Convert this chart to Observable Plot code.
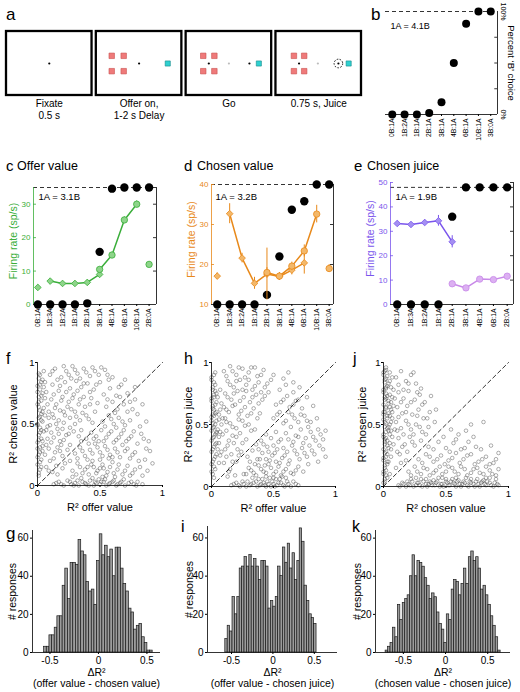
<!DOCTYPE html>
<html><head><meta charset="utf-8">
<script src="https://cdn.jsdelivr.net/npm/d3@7"></script>
<script src="https://cdn.jsdelivr.net/npm/@observablehq/plot@0.6"></script>
<style>
body{margin:0;background:#fff;}
#fig{position:relative;width:520px;height:692px;overflow:hidden;font-family:"Liberation Sans",Arial,sans-serif;}
.t{position:absolute;white-space:nowrap;color:#000;line-height:1;}
</style></head><body><div id="fig"></div>
<script>
// ---------------- DATA ----------------
// panel a (schematic)
const screenStart = [0, 1.05, 2.1, 3.15];
const captions = ["Fixate\n0.5 s", "Offer on,\n1-2 s Delay", "Go", "0.75 s, Juice"];
const redCols = [null, [0.18, 0.32], [0.2, 0.33], [0.21, 0.33]];
const redRows = [0.38, 0.62];
const cyanX = [null, 0.835, 0.85, 0.85];
const blackDots = [[0, 0.5], [1, 0.5], [2, 0.265], [2, 0.74], [3, 0.27], [3, 0.73]];
const grayDots = [[2, 0.5], [3, 0.49]];
const ringDots = [[3, 0.73]];

// panel b
const bCats = ["0B:1A","1B:2A","1B:1A","2B:1A","3B:1A","4B:1A","6B:1A","10B:1A","3B:0A"];
const bChoice = [0, 0, 0, 1.5, 12, 50, 88, 100, 100];

// panel c
const cCats = ["0B:1A","1B:3A","1B:2A","1B:1A","2B:1A","3B:1A","4B:1A","6B:1A","10B:1A","2B:0A"];
const cChoice = [0, 0, 0, 0, 1, 45, 99, 100, 100, 100];
const cDia = [5.1, 7.0, 6.3, 6.3, 6.6, 9.0, null, null, null, null];
const cDiaErr = [0.5, 0.6, 0.5, 0.5, 0.6, 0.7, 0, 0, 0, 0];
const cDiaLink = [0, 1, 1, 1, 1, 1, 0, 0, 0, 0];
const cCir = [null, null, null, null, null, 10.5, 14.8, 25.3, 30.0, 12.0];
const cCirErr = [0, 0, 0, 0, 0, 0.7, 0.8, 0.9, 1.0, 0.7];
const cCirLink = [0, 0, 0, 0, 0, 1, 1, 1, 1, 0];

// panel d
const dCats = ["0B:1A","1B:3A","1B:2A","1B:1A","2B:1A","3B:1A","4B:1A","6B:1A","10B:1A","3B:0A"];
const dChoice = [0, 0, 0, 0, 8, 40, 79, 86, 100, 100];
const dDia = [17.1, 32.7, 21.6, 15.3, 17.6, 17.0, 18.6, 20.4, null, null];
const dDiaErr = [0.8, 2.5, 1.2, 1.5, 6.5, 1.0, 1.2, 2.8, 0, 0];
const dDiaLink = [0, 1, 1, 1, 1, 1, 1, 1, 0, 0];
const dCir = [null, null, null, null, 18.0, 17.1, 19.6, 23.4, 32.6, 19.0];
const dCirErr = [0, 0, 0, 0, 1.2, 0.8, 1.0, 1.5, 2.2, 1.0];
const dCirLink = [0, 0, 0, 0, 1, 1, 1, 1, 1, 0];

// panel e
const eCats = ["0B:1A","1B:3A","1B:2A","1B:1A","2B:1A","3B:1A","4B:1A","6B:1A","2B:0A"];
const eChoice = [0, 0, 0, 0, 75, 100, 100, 100, 100];
const eDia = [33.2, 32.8, 33.6, 34.3, 25.7, null, null, null, null];
const eDiaErr = [1.0, 0.8, 1.0, 2.2, 2.5, 0, 0, 0, 0];
const eDiaLink = [1, 1, 1, 1, 1, 0, 0, 0, 0];
const eCir = [null, null, null, null, 8.5, 6.8, 10.4, 10.2, 11.6];
const eCirErr = [0, 0, 0, 0, 0.8, 0.6, 0.8, 0.8, 0.8];
const eCirLink = [0, 0, 0, 0, 1, 1, 1, 1, 1];

// panel f : R2 offer value (x) vs R2 chosen value (y)
const scatF1 = [
[0.01,0.08],[0.02,0.13],[0.00,0.17],[0.03,0.21],[0.01,0.25],[0.04,0.28],[0.02,0.31],[0.00,0.35],[0.03,0.38],[0.01,0.41],[0.05,0.44],[0.02,0.47],[0.00,0.5],[0.04,0.52],[0.01,0.55],[0.03,0.58],[0.02,0.61],[0.05,0.63],[0.00,0.66],[0.03,0.69],[0.01,0.72],[0.04,0.75],[0.02,0.78],[0.00,0.81],[0.03,0.84],[0.01,0.87],[0.02,0.9],[0.05,0.93],[0.06,0.57],[0.07,0.33],[0.06,0.71],[0.08,0.48],[0.07,0.15],[0.02,0.43],[0.01,0.64],[0.04,0.36],[0.02,0.19],[0.03,0.53],[0.05,0.8],[0.00,0.3],
[0.13,0.01],[0.17,0.03],[0.21,0.00],[0.24,0.04],[0.27,0.01],[0.3,0.02],[0.33,0.00],[0.36,0.03],[0.39,0.01],[0.42,0.04],[0.45,0.00],[0.47,0.02],[0.5,0.01],[0.53,0.03],[0.55,0.00],[0.58,0.02],[0.61,0.04],[0.64,0.01],[0.67,0.03],[0.7,0.00],[0.73,0.02],[0.77,0.01],[0.8,0.03],[0.84,0.01],[0.44,0.06],[0.52,0.07],[0.35,0.06],[0.62,0.07],[0.28,0.07],
[0.1,0.9],[0.14,0.95],[0.19,0.88],[0.23,0.93],[0.28,0.97],[0.32,0.91],[0.37,0.95],[0.42,0.89],[0.46,0.93],[0.51,0.96],[0.56,0.9],[0.12,0.82],[0.17,0.77],[0.22,0.84],[0.26,0.79],[0.31,0.85],[0.35,0.8],[0.4,0.83],[0.45,0.78],[0.11,0.7],[0.15,0.66],[0.2,0.72],[0.25,0.68],[0.29,0.74],[0.34,0.7],[0.38,0.64],[0.43,0.71],[0.48,0.67],[0.09,0.6],[0.13,0.55],[0.18,0.61],[0.22,0.57],[0.27,0.62],[0.31,0.56],[0.36,0.59],[0.41,0.54],[0.46,0.6],[0.1,0.49],[0.16,0.46],[0.21,0.51],[0.26,0.47],[0.3,0.5],[0.35,0.45],[0.13,0.39],[0.18,0.36],[0.23,0.41],[0.09,0.3],[0.14,0.27],[0.19,0.33],[0.1,0.2],[0.15,0.16],[0.2,0.24],[0.12,0.11],[0.24,0.29],[0.17,0.42],
[0.28,0.12],[0.32,0.18],[0.36,0.1],[0.4,0.15],[0.44,0.2],[0.48,0.12],[0.52,0.17],[0.56,0.11],[0.6,0.19],[0.64,0.13],[0.68,0.09],[0.72,0.16],[0.76,0.1],[0.3,0.26],[0.34,0.31],[0.38,0.24],[0.42,0.29],[0.46,0.34],[0.5,0.27],[0.54,0.32],[0.58,0.25],[0.62,0.3],[0.66,0.23],[0.7,0.28],[0.74,0.22],[0.78,0.27],[0.39,0.38],[0.43,0.43],[0.47,0.4],[0.51,0.45],[0.55,0.39],[0.59,0.44],[0.63,0.37],[0.67,0.42],[0.71,0.36],[0.75,0.4],[0.8,0.34],[0.5,0.21],[0.53,0.14],[0.57,0.22],[0.45,0.15],[0.49,0.36],[0.35,0.36],[0.26,0.2],[0.82,0.15],[0.86,0.21],[0.84,0.08],[0.88,0.12],[0.9,0.28],[0.85,0.38],[0.92,0.18],
[0.52,0.52],[0.57,0.57],[0.61,0.5],[0.65,0.55],[0.7,0.49],[0.74,0.53],[0.55,0.64],[0.6,0.68],[0.64,0.62],[0.69,0.66],[0.53,0.74],[0.58,0.79],[0.63,0.73],[0.67,0.82],[0.72,0.75],[0.78,0.7],[0.8,0.58],[0.76,0.62],[0.84,0.66],[0.82,0.48],[0.87,0.52],[0.5,0.84],[0.6,0.88],[0.7,0.86],[0.78,0.8]
];
const scatF2 = [
[0.01,0.1],[0.03,0.15],[0.00,0.23],[0.02,0.27],[0.04,0.32],[0.01,0.37],[0.03,0.45],[0.00,0.49],[0.02,0.56],[0.04,0.6],[0.01,0.68],[0.03,0.73],[0.00,0.76],[0.02,0.82],[0.04,0.86],[0.01,0.91],[0.06,0.25],[0.07,0.45],[0.08,0.66],[0.06,0.84],[0.09,0.12],[0.08,0.38],[0.07,0.76],[0.09,0.55],
[0.12,0.93],[0.16,0.86],[0.21,0.97],[0.25,0.9],[0.3,0.94],[0.34,0.87],[0.39,0.92],[0.44,0.96],[0.49,0.9],[0.54,0.94],[0.13,0.74],[0.18,0.81],[0.23,0.76],[0.27,0.87],[0.32,0.77],[0.37,0.83],[0.42,0.76],[0.47,0.82],[0.14,0.63],[0.19,0.69],[0.24,0.64],[0.28,0.71],[0.33,0.66],[0.37,0.72],[0.42,0.66],[0.12,0.58],[0.17,0.53],[0.21,0.6],[0.26,0.55],[0.3,0.6],[0.34,0.53],[0.39,0.57],[0.44,0.51],[0.11,0.43],[0.15,0.5],[0.2,0.46],[0.25,0.42],[0.29,0.44],[0.33,0.4],[0.11,0.35],[0.16,0.31],[0.21,0.37],[0.26,0.33],[0.13,0.22],[0.18,0.28],[0.22,0.18],[0.16,0.09],[0.2,0.14],
[0.15,0.02],[0.19,0.01],[0.26,0.03],[0.29,0.00],[0.32,0.04],[0.38,0.02],[0.41,0.00],[0.46,0.03],[0.49,0.05],[0.51,0.03],[0.54,0.05],[0.57,0.01],[0.6,0.03],[0.63,0.00],[0.66,0.02],[0.69,0.05],[0.75,0.03],[0.79,0.00],
[0.31,0.09],[0.34,0.15],[0.38,0.13],[0.41,0.09],[0.43,0.17],[0.47,0.1],[0.5,0.14],[0.55,0.08],[0.58,0.15],[0.61,0.1],[0.65,0.17],[0.7,0.12],[0.74,0.08],[0.78,0.13],[0.32,0.22],[0.36,0.28],[0.4,0.21],[0.44,0.26],[0.48,0.31],[0.52,0.24],[0.56,0.29],[0.6,0.23],[0.64,0.27],[0.68,0.33],[0.72,0.3],[0.76,0.25],[0.41,0.34],[0.45,0.38],[0.53,0.36],[0.57,0.42],[0.61,0.35],[0.65,0.39],[0.69,0.45],[0.73,0.38],[0.77,0.44],[0.81,0.2],[0.87,0.3],[0.83,0.42],[0.89,0.36],
[0.54,0.48],[0.59,0.54],[0.63,0.47],[0.68,0.52],[0.72,0.6],[0.56,0.7],[0.62,0.59],[0.66,0.72],[0.74,0.68],[0.57,0.86],[0.65,0.8]
];
// panel h : R2 offer value (x) vs R2 chosen juice (y)
const scatH1 = [
[0.00,0.12],[0.02,0.16],[0.01,0.2],[0.03,0.24],[0.00,0.28],[0.02,0.32],[0.04,0.35],[0.01,0.39],[0.03,0.42],[0.00,0.45],[0.02,0.48],[0.01,0.51],[0.04,0.53],[0.00,0.56],[0.03,0.59],[0.02,0.62],[0.01,0.65],[0.04,0.68],[0.00,0.71],[0.02,0.74],[0.03,0.77],[0.01,0.8],[0.02,0.84],[0.00,0.88],[0.03,0.92],[0.05,0.46],[0.06,0.54],[0.05,0.3],[0.07,0.62],[0.06,0.4],[0.05,0.72],[0.08,0.5],[0.07,0.25],[0.02,0.07],[0.01,0.58],[0.04,0.44],
[0.16,0.01],[0.2,0.03],[0.23,0.00],[0.26,0.02],[0.29,0.04],[0.31,0.01],[0.34,0.03],[0.37,0.00],[0.4,0.02],[0.43,0.01],[0.45,0.04],[0.48,0.00],[0.5,0.02],[0.53,0.01],[0.56,0.03],[0.59,0.00],[0.62,0.02],[0.66,0.04],[0.7,0.01],[0.41,0.06],[0.47,0.07],[0.52,0.06],[0.33,0.07],[0.57,0.08],
[0.1,0.93],[0.15,0.97],[0.2,0.9],[0.25,0.95],[0.3,0.92],[0.35,0.96],[0.4,0.9],[0.13,0.85],[0.18,0.8],[0.23,0.86],[0.28,0.82],[0.33,0.78],[0.38,0.84],[0.43,0.8],[0.48,0.86],[0.11,0.75],[0.16,0.7],[0.21,0.77],[0.26,0.72],[0.31,0.68],[0.36,0.74],[0.41,0.7],[0.46,0.76],[0.1,0.64],[0.14,0.6],[0.19,0.66],[0.24,0.61],[0.29,0.57],[0.34,0.63],[0.39,0.59],[0.12,0.52],[0.17,0.48],[0.22,0.54],[0.27,0.49],[0.32,0.45],[0.09,0.42],[0.14,0.37],[0.2,0.4],[0.25,0.35],[0.11,0.3],[0.16,0.26],[0.21,0.3],[0.1,0.19],[0.15,0.14],[0.2,0.2],[0.13,0.08],
[0.26,0.1],[0.3,0.15],[0.34,0.11],[0.38,0.17],[0.42,0.12],[0.46,0.18],[0.5,0.1],[0.54,0.16],[0.58,0.12],[0.62,0.18],[0.66,0.1],[0.7,0.16],[0.29,0.24],[0.33,0.29],[0.37,0.22],[0.41,0.27],[0.45,0.32],[0.49,0.25],[0.53,0.3],[0.57,0.23],[0.61,0.28],[0.65,0.33],[0.69,0.26],[0.73,0.31],[0.77,0.24],[0.81,0.29],[0.4,0.37],[0.44,0.42],[0.48,0.39],[0.52,0.44],[0.56,0.38],[0.6,0.43],[0.64,0.48],[0.68,0.41],[0.72,0.46],[0.76,0.39],[0.8,0.44],[0.84,0.37],[0.88,0.42],[0.9,0.3],[0.86,0.2],[0.74,0.12],[0.78,0.18],[0.92,0.24],[0.36,0.34],[0.44,0.22],[0.52,0.2],
[0.5,0.55],[0.55,0.6],[0.6,0.53],[0.65,0.58],[0.7,0.52],[0.75,0.57],[0.8,0.52],[0.85,0.55],[0.52,0.66],[0.58,0.7],[0.63,0.64],[0.68,0.69],[0.73,0.63],[0.55,0.78],[0.6,0.82],[0.66,0.76],[0.71,0.8],[0.77,0.72],[0.5,0.9],[0.62,0.92],[0.82,0.65]
];
const scatH2 = [
[0.01,0.1],[0.03,0.14],[0.00,0.18],[0.02,0.22],[0.04,0.26],[0.01,0.3],[0.03,0.34],[0.00,0.37],[0.02,0.4],[0.04,0.43],[0.01,0.47],[0.03,0.5],[0.00,0.53],[0.02,0.57],[0.04,0.6],[0.01,0.63],[0.03,0.66],[0.00,0.69],[0.02,0.72],[0.04,0.75],[0.01,0.78],[0.03,0.82],[0.00,0.86],[0.02,0.9],[0.06,0.35],[0.07,0.44],[0.06,0.58],[0.08,0.67],[0.07,0.78],[0.06,0.19],[0.09,0.55],[0.08,0.28],
[0.12,0.89],[0.17,0.93],[0.22,0.96],[0.27,0.88],[0.32,0.96],[0.37,0.89],[0.42,0.94],[0.15,0.82],[0.2,0.85],[0.25,0.78],[0.3,0.86],[0.35,0.81],[0.4,0.76],[0.45,0.83],[0.13,0.72],[0.18,0.75],[0.23,0.69],[0.28,0.77],[0.33,0.72],[0.38,0.67],[0.43,0.73],[0.12,0.62],[0.17,0.65],[0.22,0.58],[0.27,0.64],[0.32,0.59],[0.37,0.55],[0.11,0.55],[0.15,0.51],[0.2,0.47],[0.25,0.53],[0.3,0.5],[0.35,0.46],[0.12,0.45],[0.17,0.41],[0.23,0.43],[0.28,0.38],[0.13,0.33],[0.18,0.35],[0.24,0.28],[0.12,0.24],[0.17,0.2],[0.22,0.25],[0.14,0.12],[0.19,0.09],
[0.18,0.02],[0.22,0.01],[0.25,0.04],[0.28,0.00],[0.32,0.02],[0.36,0.04],[0.39,0.01],[0.42,0.03],[0.44,0.00],[0.46,0.02],[0.49,0.04],[0.51,0.00],[0.54,0.03],[0.58,0.01],[0.61,0.04],[0.64,0.00],[0.68,0.02],[0.38,0.06],[0.44,0.08],[0.5,0.07],[0.55,0.06],[0.6,0.07],
[0.28,0.1],[0.32,0.13],[0.36,0.09],[0.4,0.14],[0.44,0.11],[0.48,0.15],[0.52,0.12],[0.56,0.09],[0.6,0.14],[0.64,0.11],[0.68,0.13],[0.31,0.2],[0.35,0.18],[0.39,0.22],[0.43,0.17],[0.47,0.21],[0.51,0.27],[0.55,0.19],[0.59,0.25],[0.63,0.21],[0.67,0.29],[0.71,0.22],[0.75,0.27],[0.79,0.33],[0.83,0.26],[0.38,0.3],[0.42,0.34],[0.46,0.28],[0.5,0.33],[0.54,0.36],[0.58,0.31],[0.62,0.38],[0.66,0.36],[0.7,0.4],[0.74,0.35],[0.78,0.48],[0.82,0.4],[0.86,0.46],[0.9,0.38],[0.92,0.45],[0.87,0.33],
[0.53,0.58],[0.58,0.51],[0.62,0.6],[0.67,0.55],[0.72,0.58],[0.77,0.53],[0.56,0.68],[0.61,0.73],[0.66,0.66],[0.7,0.7],[0.58,0.87],[0.66,0.84]
];
// panel j : R2 chosen value (x) vs R2 chosen juice (y)
const scatJ1 = [
[0.00,0.03],[0.01,0.06],[0.02,0.09],[0.00,0.12],[0.01,0.15],[0.03,0.18],[0.00,0.21],[0.02,0.24],[0.01,0.27],[0.00,0.3],[0.03,0.33],[0.01,0.36],[0.02,0.39],[0.00,0.42],[0.04,0.45],[0.01,0.48],[0.02,0.51],[0.00,0.54],[0.03,0.57],[0.01,0.6],[0.02,0.63],[0.00,0.66],[0.04,0.69],[0.01,0.72],[0.02,0.75],[0.00,0.78],[0.03,0.81],[0.01,0.84],[0.02,0.87],[0.00,0.9],[0.01,0.93],[0.02,0.96],[0.05,0.5],[0.06,0.62],[0.05,0.74],[0.07,0.4],[0.06,0.3],[0.05,0.85],[0.07,0.55],[0.06,0.68],[0.04,0.2],[0.05,0.1],[0.08,0.78],[0.04,0.59],[0.03,0.47],[0.01,0.38],[0.02,0.71],[0.03,0.26],[0.00,0.58],[0.02,0.8],
[0.12,0.01],[0.15,0.03],[0.18,0.00],[0.2,0.02],[0.23,0.04],[0.26,0.01],[0.28,0.03],[0.31,0.00],[0.34,0.02],[0.37,0.04],[0.39,0.01],[0.42,0.03],[0.45,0.00],[0.47,0.02],[0.5,0.04],[0.53,0.01],[0.56,0.03],[0.58,0.00],[0.61,0.02],[0.64,0.04],[0.67,0.01],[0.7,0.03],[0.73,0.00],[0.76,0.02],[0.79,0.04],[0.82,0.01],[0.85,0.03],[0.88,0.00],[0.91,0.02],[0.3,0.06],[0.44,0.07],[0.55,0.06],[0.66,0.07],[0.75,0.06],[0.85,0.07],[0.4,0.05],[0.6,0.05],[0.22,0.06],[0.5,0.06],[0.8,0.05],
[0.1,0.88],[0.14,0.93],[0.18,0.85],[0.22,0.9],[0.26,0.83],[0.3,0.79],[0.12,0.76],[0.16,0.71],[0.2,0.77],[0.25,0.7],[0.29,0.74],[0.33,0.68],[0.11,0.64],[0.15,0.59],[0.19,0.65],[0.23,0.58],[0.28,0.62],[0.32,0.55],[0.37,0.6],[0.1,0.52],[0.14,0.47],[0.18,0.53],[0.22,0.46],[0.26,0.5],[0.31,0.44],[0.36,0.48],[0.41,0.52],[0.12,0.39],[0.17,0.34],[0.21,0.4],[0.25,0.33],[0.13,0.26],[0.18,0.21],[0.1,0.15],[0.42,0.62],[0.38,0.73],[0.24,0.92],
[0.2,0.12],[0.25,0.16],[0.3,0.1],[0.35,0.14],[0.4,0.11],[0.45,0.16],[0.5,0.12],[0.55,0.15],[0.6,0.1],[0.65,0.14],[0.7,0.11],[0.75,0.15],[0.8,0.1],[0.85,0.13],[0.9,0.09],[0.28,0.22],[0.34,0.26],[0.4,0.2],[0.46,0.25],[0.52,0.21],[0.58,0.27],[0.64,0.22],[0.7,0.26],[0.76,0.2],[0.82,0.24],[0.88,0.19],[0.36,0.32],[0.44,0.36],[0.5,0.31],[0.56,0.35],[0.62,0.3],[0.68,0.36],[0.74,0.32],[0.6,0.42],[0.66,0.45],[0.72,0.4],[0.8,0.52],[0.92,0.27],[0.48,0.4],[0.54,0.46]
];
const scatJ2 = [
[0.01,0.04],[0.03,0.07],[0.00,0.1],[0.02,0.13],[0.01,0.17],[0.03,0.2],[0.00,0.23],[0.02,0.28],[0.04,0.31],[0.01,0.34],[0.03,0.37],[0.00,0.4],[0.02,0.44],[0.04,0.48],[0.01,0.52],[0.03,0.55],[0.00,0.6],[0.02,0.64],[0.04,0.67],[0.01,0.7],[0.03,0.73],[0.00,0.76],[0.02,0.79],[0.04,0.83],[0.01,0.86],[0.03,0.89],[0.00,0.92],[0.02,0.94],[0.05,0.42],[0.06,0.52],[0.05,0.64],[0.07,0.72],[0.06,0.8],[0.05,0.35],[0.06,0.24],[0.07,0.6],[0.05,0.57],[0.06,0.45],[0.08,0.65],[0.07,0.88],[0.09,0.46],[0.08,0.34],[0.09,0.71],[0.05,0.92],
[0.13,0.00],[0.16,0.02],[0.19,0.04],[0.21,0.01],[0.24,0.00],[0.27,0.03],[0.29,0.01],[0.32,0.04],[0.35,0.00],[0.36,0.02],[0.38,0.03],[0.41,0.01],[0.43,0.04],[0.46,0.02],[0.48,0.00],[0.51,0.03],[0.52,0.01],[0.54,0.04],[0.57,0.02],[0.59,0.04],[0.62,0.00],[0.63,0.02],[0.65,0.03],[0.68,0.00],[0.69,0.04],[0.72,0.02],[0.74,0.04],[0.77,0.00],[0.78,0.03],[0.81,0.02],[0.83,0.04],[0.86,0.01],[0.89,0.03],[0.92,0.01],[0.26,0.07],[0.34,0.06],[0.47,0.07],[0.58,0.07],[0.7,0.06],[0.82,0.07],[0.9,0.06],
[0.12,0.82],[0.16,0.78],[0.2,0.83],[0.27,0.76],[0.14,0.68],[0.18,0.6],[0.22,0.68],[0.27,0.57],[0.31,0.66],[0.12,0.56],[0.16,0.42],[0.2,0.5],[0.24,0.42],[0.29,0.48],[0.34,0.42],[0.11,0.45],[0.15,0.32],[0.19,0.28],[0.23,0.36],[0.14,0.19],[0.11,0.28],[0.35,0.55],[0.3,0.37],
[0.22,0.09],[0.27,0.12],[0.32,0.15],[0.37,0.09],[0.42,0.13],[0.47,0.1],[0.52,0.16],[0.57,0.12],[0.62,0.16],[0.67,0.09],[0.72,0.14],[0.77,0.11],[0.82,0.16],[0.87,0.1],[0.92,0.14],[0.31,0.19],[0.37,0.24],[0.43,0.22],[0.49,0.18],[0.55,0.23],[0.61,0.19],[0.67,0.25],[0.73,0.18],[0.79,0.22],[0.85,0.18],[0.9,0.22],[0.4,0.3],[0.53,0.28],[0.65,0.31],[0.78,0.3],[0.7,0.5],[0.58,0.38],[0.86,0.33]
];

// histograms: counts per bin, first bin edge, bin width
const histG = [3,3,9,9,13,19,19,35,44,28,47,47,46,59,53,51,37,32,33,25,48,62,51,56,50,54,40,55,55,44,36,32,23,21,12,14,15,8,5,1,1];
const histGStart = -0.56, histGWidth = 0.0273;
const histI = [7,14,11,29,20,29,44,45,50,45,51,45,49,45,38,48,48,45,23,27,24,29,45,40,55,47,57,44,52,38,48,65,58,35,27,20,18,15];
const histIStart = -0.575, histIWidth = 0.029;
const histK = [1,3,5,13,8,25,17,26,28,30,40,51,40,48,47,45,39,35,28,31,29,21,15,12,5,20,17,33,38,37,30,36,44,36,50,53,48,50,44,33,35,30,25,19,14,8,1];
const histKStart = -0.71, histKWidth = 0.029;

// ---------------- DRAWING ----------------
const FONT = '"Liberation Sans", Arial, Helvetica, sans-serif';
const fig = document.getElementById("fig");
function put(node, left, top) {
  node.style.position = "absolute";
  node.style.left = left + "px";
  node.style.top = top + "px";
  fig.appendChild(node);
}
function txt(s, left, baseline, size, color) {
  const el = document.createElement("div");
  el.className = "t";
  el.textContent = s;
  el.style.fontSize = size + "px";
  el.style.left = left + "px";
  el.style.top = (baseline - 0.846 * size) + "px";
  if (color) el.style.color = color;
  fig.appendChild(el);
}
function mk(o) {
  return Plot.plot({...o, style: {fontFamily: FONT, background: "transparent", overflow: "visible", color: "#000"}});
}

// ----- panel a -----
{
  const sq = [];
  redCols.forEach((cols, s) => { if (cols) cols.forEach(fx => redRows.forEach(fy => sq.push({s, fx, fy}))); });
  const cy = cyanX.map((fx, s) => fx == null ? null : {s, fx}).filter(d => d);
  const pa = mk({
    width: 370, height: 125, marginLeft: 6, marginRight: 9, marginTop: 31, marginBottom: 30,
    x: {domain: [0, 4.15], axis: null}, y: {domain: [0, 1], axis: null},
    marks: [
      Plot.rect(screenStart, {x1: d => d, x2: d => d + 1, y1: 0, y2: 1, fill: "none", stroke: "#000", strokeWidth: 2.3}),
      Plot.dot(sq, {x: d => screenStart[d.s] + d.fx, y: d => d.fy, symbol: "square", r: 3.1, fill: "#ef7a7a", stroke: "#c9504f", strokeWidth: 0.6}),
      Plot.dot(cy, {x: d => screenStart[d.s] + d.fx, y: 0.5, symbol: "square", r: 2.9, fill: "#2fd0d0", stroke: "#158a8a", strokeWidth: 0.6}),
      Plot.dot(grayDots, {x: d => screenStart[d[0]] + d[1], y: 0.5, r: 1.1, fill: "#bbb"}),
      Plot.dot(blackDots, {x: d => screenStart[d[0]] + d[1], y: 0.5, r: 1.1, fill: "#000"}),
      Plot.dot(ringDots, {x: d => screenStart[d[0]] + d[1], y: 0.5, r: 4.3, fill: "none", stroke: "#000", strokeWidth: 0.9, strokeDasharray: "1.6,1.4"}),
      Plot.text(captions, {x: (d, i) => screenStart[i] + 0.5, y: 0, text: d => d, lineAnchor: "top", dy: 3, fontSize: 10, lineHeight: 1.2})
    ]
  });
  put(pa, 0, 0);
}

// ----- panel b -----
{
  const idx = d3.range(bCats.length);
  const xd = [-0.55, 8.55];
  const pb = mk({
    width: 150, height: 150, marginLeft: 15, marginRight: 23, marginTop: 11, marginBottom: 36,
    x: {domain: xd, axis: null}, y: {domain: [0, 100], axis: null},
    marks: [
      Plot.ruleY([100], {stroke: "#000", strokeWidth: 0.8, strokeDasharray: "4,3"}),
      Plot.ruleY([0], {stroke: "#000", strokeWidth: 0.8}),
      Plot.ruleX([xd[1]], {y1: 0, y2: 100, stroke: "#000", strokeWidth: 0.8}),
      Plot.ruleY([25, 50, 75], {x1: xd[1] - 0.22, x2: xd[1], stroke: "#000", strokeWidth: 0.8}),
      Plot.axisX({ticks: idx, tickFormat: i => bCats[i], tickRotate: -90, tickSize: 2, tickPadding: 2, fontSize: 6.8, label: null}),
      Plot.text([0, 100], {x: xd[1], y: d => d, text: d => d + "%", rotate: 90, dx: 6, fontSize: 7}),
      Plot.text(["Percent \u2018B\u2019 choice"], {x: xd[1], y: 50, rotate: 90, dx: 14, fontSize: 9.5}),
      Plot.dot(idx, {x: i => i, y: i => bChoice[i], r: 4, fill: "#000"}),
      Plot.text(["1A = 4.1B"], {frameAnchor: "top-left", dx: 5, dy: 11, fontSize: 9})
    ]
  });
  put(pb, 370, 0);
}

// ----- panels c, d, e -----
function valuePanel(o) {
  const n = o.cats.length, idx = d3.range(n);
  const [x0, x1] = o.xdom;
  const pw = o.w - o.ml - o.mr;
  const tk = 3 * (x1 - x0) / pw;
  const black = idx.map(i => ({i, v: o.ymin + (o.top - o.ymin) * o.choice[i] / 100}));
  const dia = idx.filter(i => o.dia[i] != null).map(i => ({i, v: o.dia[i], e: o.diaErr[i], link: o.diaLink[i]}));
  const cir = idx.filter(i => o.cir[i] != null).map(i => ({i, v: o.cir[i], e: o.cirErr[i], link: o.cirLink[i]}));
  return mk({
    width: o.w, height: o.h, marginLeft: o.ml, marginRight: o.mr, marginTop: o.mt, marginBottom: o.mb,
    x: {domain: o.xdom, axis: null}, y: {domain: [o.ymin, o.ymax], axis: null},
    marks: [
      Plot.ruleY([o.top], {stroke: "#000", strokeWidth: 0.8, strokeDasharray: "4,3"}),
      Plot.ruleY([o.ymin], {stroke: "#000", strokeWidth: 0.8}),
      Plot.ruleX([x1], {y1: o.ymin, y2: o.ymax, stroke: "#000", strokeWidth: 0.8}),
      Plot.ruleX([x0], {y1: o.ymin, y2: o.ymax, stroke: o.color, strokeWidth: 0.8}),
      Plot.ruleY(o.yticks.slice(1), {x1: x1 - tk, x2: x1, stroke: "#000", strokeWidth: 0.8}),
      Plot.ruleY(o.yticks.slice(1), {x1: x0, x2: x0 + tk, stroke: o.color, strokeWidth: 0.8}),
      Plot.axisY({ticks: o.yticks, tickSize: 0, tickPadding: 3, color: o.color, fontSize: 8, label: null}),
      Plot.axisX({ticks: idx, tickFormat: i => o.cats[i], tickRotate: -90, tickSize: 2, tickPadding: 2, fontSize: 6.8, label: null}),
      Plot.dot(black, {x: "i", y: "v", r: 4.2, fill: "#000"}),
      Plot.ruleX(dia, {x: "i", y1: d => d.v - d.e, y2: d => d.v + d.e, stroke: o.color, strokeWidth: 1}),
      Plot.line(dia.filter(d => d.link), {x: "i", y: "v", stroke: o.color, strokeWidth: 1.5}),
      Plot.dot(dia, {x: "i", y: "v", symbol: "diamond2", r: 3.0, fill: o.fill, stroke: o.color, strokeWidth: 0.8}),
      Plot.ruleX(cir, {x: "i", y1: d => d.v - d.e, y2: d => d.v + d.e, stroke: o.color2, strokeWidth: 1}),
      Plot.line(cir.filter(d => d.link), {x: "i", y: "v", stroke: o.color2, strokeWidth: 1.5}),
      Plot.dot(cir, {x: "i", y: "v", r: 3.2, fill: o.fill2, stroke: o.color2, strokeWidth: 0.8}),
      Plot.text([o.ratio], {frameAnchor: "top-left", dx: o.rdx, dy: o.rdy, fontSize: 9.5}),
      Plot.text(["Firing rate (sp/s)"], {frameAnchor: "left", textAnchor: "middle", dx: -20, dy: -5, rotate: -90, fill: o.color, fontSize: 10.5})
    ]
  });
}
put(valuePanel({cats: cCats, choice: cChoice, dia: cDia, diaErr: cDiaErr, diaLink: cDiaLink, cir: cCir, cirErr: cCirErr, cirLink: cCirLink,
  ymin: 0, ymax: 35, top: 35, yticks: [0, 10, 20, 30], xdom: [-0.35, 9.6],
  w: 170, h: 180, ml: 33, mr: 14, mt: 27, mb: 36, color: "#3aae3a", fill: "#8ed48a", color2: "#3aae3a", fill2: "#8ed48a",
  ratio: "1A = 3.1B", rdx: 5, rdy: 6}), 0, 160);
put(valuePanel({cats: dCats, choice: dChoice, dia: dDia, diaErr: dDiaErr, diaLink: dDiaLink, cir: dCir, cirErr: dCirErr, cirLink: dCirLink,
  ymin: 10, ymax: 40, top: 40, yticks: [10, 20, 30, 40], xdom: [-0.46, 9.35],
  w: 170, h: 180, ml: 41, mr: 7, mt: 24, mb: 36, color: "#e8891a", fill: "#f3b86a", color2: "#e8891a", fill2: "#f3b86a",
  ratio: "1A = 3.2B", rdx: 4, rdy: 9}), 170, 160);
put(valuePanel({cats: eCats, choice: eChoice, dia: eDia, diaErr: eDiaErr, diaLink: eDiaLink, cir: eCir, cirErr: eCirErr, cirLink: eCirLink,
  ymin: 0, ymax: 50, top: 48, yticks: [0, 10, 20, 30, 40, 50], xdom: [-0.49, 8.46],
  w: 180, h: 180, ml: 50, mr: 7, mt: 22, mb: 36, color: "#7a55ec", fill: "#a48ff2", color2: "#c889e8", fill2: "#dcb0f2",
  ratio: "1A = 1.9B", rdx: 5, rdy: 11}), 340, 160);

// ----- scatter panels f, h, j -----
const diag = [0, 1];
function scatterPanel(o) {
  return mk({
    width: o.w, height: o.h, marginLeft: o.ml, marginRight: o.mr, marginTop: 12, marginBottom: o.mb,
    x: {domain: [0, 1], axis: null}, y: {domain: [0, 1], axis: null},
    marks: [
      Plot.dot(o.data, {x: d => d[0], y: d => d[1], r: 1.8, fill: "none", stroke: "#3a3a3a", strokeOpacity: 0.68, strokeWidth: 0.6}),
      Plot.line(diag, {x: d => d, y: d => d, stroke: "#000", strokeWidth: 0.8, strokeDasharray: "4,3"}),
      Plot.ruleX([0], {stroke: "#000", strokeWidth: 0.8}),
      Plot.ruleY([0], {stroke: "#000", strokeWidth: 0.8}),
      Plot.axisX({ticks: [0, 0.5, 1], tickFormat: d => String(d), tickSize: 2, tickPadding: 2, fontSize: 9.5, label: null}),
      Plot.axisY({ticks: [0, 0.5, 1], tickFormat: d => String(d), tickSize: 2, tickPadding: 1, fontSize: 9.5, label: null}),
      Plot.text([o.xl], {frameAnchor: "bottom", lineAnchor: "middle", dy: 22, fontSize: 11}),
      Plot.text([o.yl], {frameAnchor: "left", textAnchor: "middle", dx: o.ydx, rotate: -90, fontSize: 11})
    ]
  });
}
put(scatterPanel({data: scatF1.concat(scatF2), w: 170, h: 170, ml: 37, mr: 8, mb: 35, xl: "R\u00b2 offer value", yl: "R\u00b2 chosen value", ydx: -24}), 0, 350);
put(scatterPanel({data: scatH1.concat(scatH2), w: 170, h: 170, ml: 41, mr: 5, mb: 34, xl: "R\u00b2 offer value", yl: "R\u00b2 chosen juice", ydx: -23}), 170, 350);
put(scatterPanel({data: scatJ1.concat(scatJ2), w: 180, h: 170, ml: 43, mr: 12, mb: 34, xl: "R\u00b2 chosen value", yl: "R\u00b2 chosen juice", ydx: -21}), 340, 350);

// ----- histogram panels g, i, k -----
function histPanel(o) {
  const bars = o.counts.map((c, i) => ({a: o.start + i * o.width, b: o.start + (i + 1) * o.width, c}));
  return mk({
    width: o.w, height: 172, marginLeft: o.ml, marginRight: o.mr, marginTop: o.mt, marginBottom: 40,
    x: {domain: o.xdom, axis: null}, y: {domain: [0, o.ymax], axis: null},
    marks: [
      Plot.rectY(bars, {x1: "a", x2: "b", y: "c", fill: "#9c9c9c", stroke: "#1a1a1a", strokeWidth: 0.7}),
      Plot.ruleX([o.xdom[0]], {stroke: "#000", strokeWidth: 0.8}),
      Plot.ruleY([0], {stroke: "#000", strokeWidth: 0.8}),
      Plot.axisX({ticks: [-0.5, 0, 0.5], tickFormat: d => String(d), tickSize: 2, tickPadding: 2, fontSize: 10, label: null}),
      Plot.axisY({ticks: [0, 20, 40, 60], tickSize: 2, tickPadding: 2, fontSize: 10, label: null}),
      Plot.text(["\u0394R\u00b2"], {frameAnchor: "bottom", lineAnchor: "middle", dy: 20, fontSize: 10.5}),
      Plot.text([o.xl], {frameAnchor: "bottom", lineAnchor: "middle", dy: 31.5, fontSize: 10.5}),
      Plot.text(["# responses"], {frameAnchor: "left", textAnchor: "middle", dx: o.ydx, rotate: -90, fontSize: 10.5})
    ]
  });
}
put(histPanel({counts: histG, start: histGStart, width: histGWidth, xdom: [-0.68, 0.64], ymax: 64, w: 170, ml: 32, mr: 10, mt: 10, xl: "(offer value - chosen value)", ydx: -20}), 0, 520);
put(histPanel({counts: histI, start: histIStart, width: histIWidth, xdom: [-0.79, 0.78], ymax: 66, w: 170, ml: 37, mr: 3, mt: 6, xl: "(offer value - chosen juice)", ydx: -18}), 170, 520);
put(histPanel({counts: histK, start: histKStart, width: histKWidth, xdom: [-0.83, 0.77], ymax: 64, w: 180, ml: 35, mr: 10, mt: 10, xl: "(chosen value - chosen juice)", ydx: -18}), 340, 520);

// ----- panel letters & titles -----
txt("a", 6, 20, 17);
txt("b", 371, 20, 17);
txt("c", 6, 171, 15); txt("Offer value", 17, 171, 12.5);
txt("d", 184, 171, 15); txt("Chosen value", 197, 171, 12.5);
txt("e", 354, 171, 15); txt("Chosen juice", 367, 171, 12.5);
txt("f", 6, 365, 16);
txt("h", 184, 365, 16);
txt("j", 353, 365, 16);
txt("g", 6, 539, 17);
txt("i", 181, 533, 16);
txt("k", 352, 533, 16);
</script></body></html>
